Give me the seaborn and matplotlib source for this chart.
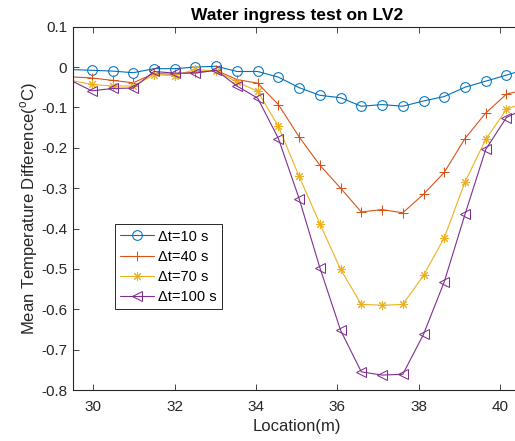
import numpy as np
import pandas as pd
import matplotlib
matplotlib.use("Agg")
import matplotlib.pyplot as plt
import seaborn as sns

# Measurement locations along the cable (m)
location = [29.38, 29.96, 30.47, 30.98, 31.49, 32.00, 32.51, 33.02, 33.53, 34.04,
            34.55, 35.06, 35.57, 36.08, 36.59, 37.10, 37.61, 38.12, 38.63, 39.14,
            39.65, 40.16, 40.67]

# Mean temperature difference (deg C) for each time window
dt10 = [-0.006, -0.008, -0.010, -0.014, -0.004, -0.004, 0.000, 0.002, -0.011, -0.011,
        -0.025, -0.051, -0.070, -0.076, -0.097, -0.093, -0.097, -0.084, -0.073, -0.050,
        -0.035, -0.020, -0.004]
dt40 = [-0.024, -0.027, -0.033, -0.039, -0.016, -0.018, -0.012, -0.008, -0.031, -0.040,
        -0.093, -0.173, -0.243, -0.300, -0.359, -0.353, -0.361, -0.315, -0.261, -0.177,
        -0.114, -0.067, -0.055]
dt70 = [-0.032, -0.043, -0.047, -0.047, -0.019, -0.021, -0.006, -0.010, -0.037, -0.060,
        -0.147, -0.271, -0.388, -0.501, -0.588, -0.590, -0.588, -0.516, -0.423, -0.285,
        -0.179, -0.105, -0.085]
dt100 = [-0.030, -0.059, -0.053, -0.052, -0.011, -0.015, -0.015, -0.008, -0.047, -0.077,
         -0.177, -0.326, -0.497, -0.652, -0.755, -0.763, -0.761, -0.662, -0.532, -0.365,
         -0.204, -0.125, -0.100]

labels = ["\u0394t=10 s", "\u0394t=40 s", "\u0394t=70 s", "\u0394t=100 s"]
x_ticks = [30, 32, 34, 36, 38, 40]
y_ticks = [-0.8, -0.7, -0.6, -0.5, -0.4, -0.3, -0.2, -0.1, 0, 0.1]
y_ticklabels = ["-0.8", "-0.7", "-0.6", "-0.5", "-0.4", "-0.3", "-0.2", "-0.1", "0", "0.1"]

df = pd.DataFrame({"location": location, labels[0]: dt10, labels[1]: dt40,
                   labels[2]: dt70, labels[3]: dt100})

sns.set_theme(style="white")
plt.rcParams["font.family"] = ["Liberation Sans", "DejaVu Sans"]
plt.rcParams["mathtext.fontset"] = "custom"
plt.rcParams["mathtext.rm"] = "Liberation Sans"

colors = ["#0072BD", "#D95319", "#EDB120", "#7E2F8E"]
markers = ["o", "+", (8, 2, 0), "<"]
msizes = [7.0, 7.5, 6.5, 7.5]

fig = plt.figure(figsize=(5.15, 4.41), dpi=100)
ax = fig.add_axes([0.1412, 0.1156, 0.8698, 0.8239])

for lab, c, m, ms in zip(labels, colors, markers, msizes):
    sns.lineplot(data=df, x="location", y=lab, ax=ax, color=c, marker=m,
                 markersize=ms, markerfacecolor="none", markeredgecolor=c,
                 markeredgewidth=0.75, linewidth=0.8, label=lab,
                 estimator=None, sort=False)

ax.set_xlim(29.49, 40.51)
ax.set_ylim(-0.8, 0.1)
ax.set_xticks(x_ticks)
ax.set_xticklabels([str(t) for t in x_ticks])
ax.set_yticks(y_ticks)
ax.set_yticklabels(y_ticklabels)

ink = "#262626"
for side in ["left", "bottom", "top", "right"]:
    ax.spines[side].set_color(ink)
    ax.spines[side].set_linewidth(0.8)
ax.tick_params(axis="both", which="both", direction="in", length=4, width=0.6,
               colors=ink, labelsize=11, top=True, bottom=True, left=True,
               right=True, labelcolor=ink, pad=4)
ax.tick_params(axis="x", pad=7)

ax.set_xlabel("Location(m)", fontsize=12, color=ink, labelpad=4)
ax.set_ylabel(r"Mean Temperature Difference($^{\rm o}$C)", fontsize=12,
              color=ink, labelpad=1)
ax.set_title("Water ingress test on LV2", fontsize=12.5, fontweight="bold",
             color="black", pad=5)

leg = ax.legend(loc="lower left", bbox_to_anchor=(0.0944, 0.223),
                borderaxespad=0, fontsize=10.5, frameon=True, fancybox=False,
                handlelength=2.3, handletextpad=0.3, labelspacing=0.42,
                borderpad=0.35, framealpha=1)
leg.get_frame().set_edgecolor(ink)
leg.get_frame().set_linewidth(0.7)
for t in leg.get_texts():
    t.set_color("black")

fig.savefig("out.png", dpi=100)
